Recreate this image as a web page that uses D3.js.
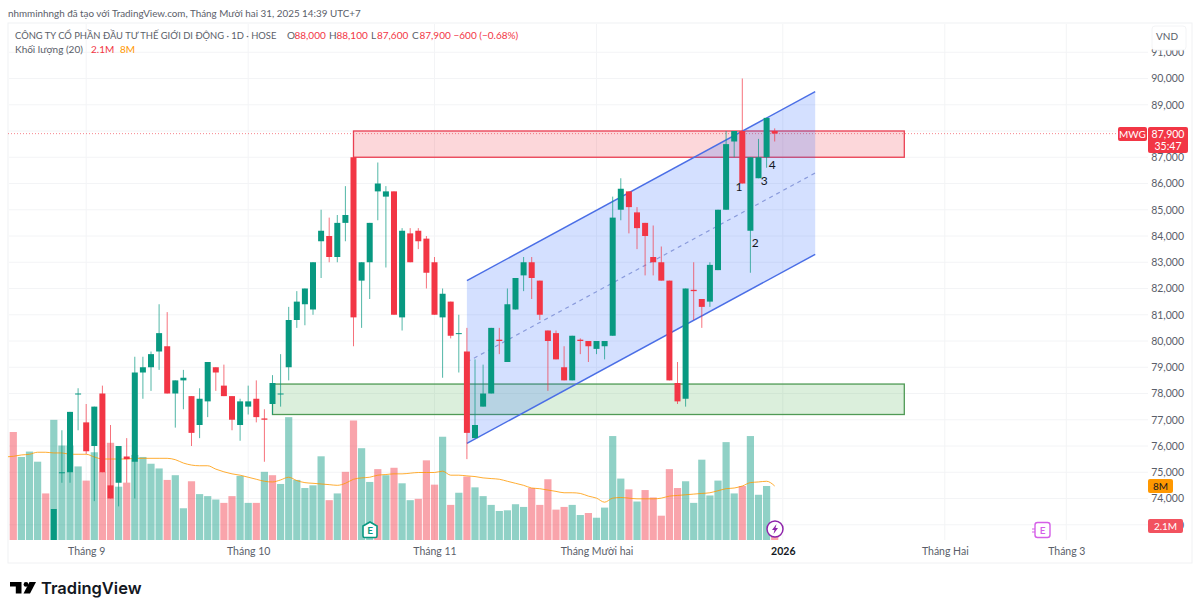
<!DOCTYPE html>
<html lang="vi">
<head>
<meta charset="UTF-8">
<title>MWG</title>
<script src="https://d3js.org/d3.v7.min.js"></script>
<style>
  html, body { margin: 0; background: #fff; overflow: hidden; }
  svg { display: block; font-family: Lato, "Noto Sans", sans-serif; }
  .axis text { font-size: 10.5px; fill: #5a5e69; font-family: Lato, "Noto Sans", sans-serif; }
  .axis path, .axis line { display: none; }
</style>
</head>
<body>
<svg width="1200" height="613"></svg>
<script>
// candles start at index 5, the earlier ones sit below the visible pane
const firstCandle = 5;
// prices in thousand VND
const opens = [71.8,75.0,75.0,78.0,76.9,76.0,78.0,74.5,74.6,75.6,75.4,78.8,79.0,79.6,79.8,78.0,78.5,77.9,76.8,77.7,79.0,78.3,77.9,76.8,77.5,77.8,77.05,77.6,78.0,79.0,80.8,81.4,81.2,83.8,84.0,83.2,84.5,87.0,82.3,83.0,85.7,85.5,85.7,80.9,84.1,84.2,83.9,83.0,80.9,81.5,80.3,79.6,76.3,77.5,78.0,80.05,79.2,81.2,82.5,83.0,82.3,80.4,80.3,79.0,78.5,80.05,80.0,79.7,79.8,80.2,85.0,85.7,84.9,84.5,83.2,83.0,82.3,78.4,77.8,81.95,81.6,81.5,82.7,85.0,87.6,88.0,84.2,86.2,87.0,88.0];
const highs = [73.6,76.6,77.3,78.2,77.6,77.5,78.3,76.8,76.0,76.3,79.4,79.4,79.6,81.4,81.1,78.5,78.9,77.9,78.2,79.2,79.0,79.1,77.9,77.8,78.3,78.5,77.4,78.7,79.5,81.3,81.9,82.0,83.0,85.0,84.7,84.8,85.9,87.0,83.0,84.5,86.8,85.9,85.7,84.3,84.3,84.3,84.0,83.2,82.0,81.5,81.0,80.5,79.3,79.1,80.5,80.5,82.0,82.4,83.2,83.2,82.3,80.4,80.4,79.8,80.2,80.1,80.0,80.0,80.0,85.5,86.2,85.7,85.1,84.5,84.4,83.6,82.3,79.2,82.0,83.0,81.6,83.0,85.0,88.0,88.0,90.0,87.0,87.7,88.5,88.1];
const lows = [71.8,74.6,74.6,76.6,75.7,73.9,75.0,74.0,73.7,74.6,74.0,77.8,78.1,78.9,78.0,76.7,77.4,76.0,76.3,77.1,78.1,77.9,76.6,76.2,77.2,76.9,75.4,77.2,77.5,78.5,80.5,80.6,81.0,82.4,83.0,83.0,83.8,79.8,80.5,81.6,84.6,82.8,81.0,80.4,83.0,83.5,82.0,81.0,78.6,80.1,78.8,75.5,76.3,77.5,78.0,79.5,79.2,81.2,81.9,81.6,80.8,78.1,79.3,78.5,78.5,79.5,79.2,79.5,79.3,80.2,84.6,84.1,83.5,82.5,82.5,82.3,78.5,77.6,77.5,80.8,80.5,81.3,82.7,85.0,87.0,86.0,82.6,86.2,86.6,87.6];
const closes = [73.6,75.0,77.3,78.0,75.8,77.5,75.0,74.0,76.0,75.5,78.8,79.0,79.5,80.3,78.0,78.5,78.6,76.5,77.8,79.2,78.8,77.9,77.0,77.7,77.7,77.1,77.0,78.4,78.0,80.8,81.5,82.0,83.0,84.2,83.2,84.5,84.8,80.9,83.0,84.5,86.0,85.7,81.0,84.2,83.0,83.8,82.6,81.0,81.8,80.2,80.3,76.5,76.8,78.0,80.5,80.0,81.4,82.4,83.0,82.4,81.0,80.0,79.3,78.5,80.2,80.0,79.8,80.0,80.0,84.7,85.8,85.1,84.3,84.0,83.0,82.3,78.5,77.7,82.0,81.9,81.3,82.9,85.0,87.5,88.0,86.0,87.0,87.0,88.5,87.9];

// volume in millions, one per session from index 0
const volumes = [16.0,12.3,13.1,11.6,6.9,17.8,14.0,14.0,10.9,8.8,13.0,10.1,14.4,7.9,8.5,12.6,12.3,11.3,10.6,8.9,9.6,4.7,8.7,6.8,6.5,6.0,5.5,6.5,9.5,5.5,5.5,10.1,9.6,8.3,18.2,8.9,7.7,8.1,12.4,5.9,6.9,10.1,17.7,13.6,8.6,10.5,9.6,10.7,8.4,5.9,6.1,11.8,8.2,15.3,5.2,7.0,9.4,7.8,6.5,5.2,4.3,4.4,5.3,4.9,7.7,5.2,9.0,4.5,4.9,5.2,3.7,4.0,3.3,4.8,15.4,9.1,7.5,5.7,7.4,6.3,3.6,10.5,7.7,8.7,5.5,11.9,6.6,8.8,14.5,6.9,8.0,15.4,6.7,8.0,2.1];
const volumeDirs = "duuuduuuud" + "udduduuuud" + "uuduuudduu" + "duduuuuuud" + "udduududuu" + "dddududuuu" + "uuuudddddu" + "uduuuududd" + "ddduuuuuuu" + "duuud";
// 20 session volume average, starts one session before the first bar
const firstMA = -1;
const volumeMA = [12.3,12.4,12.6,12.7,13.0,13.0,12.9,12.9,12.7,12.7,12.7,12.3,12.0,12.0,12.0,12.0,12.1,12.1,12.1,12.1,12.1,11.9,11.4,11.1,11.0,11.0,10.5,10.1,9.8,9.6,9.3,9.0,8.7,8.6,8.9,9.3,8.8,8.5,8.4,8.3,8.2,8.1,8.4,9.0,9.2,9.3,9.6,9.7,9.8,9.8,9.9,10.0,10.0,10.0,10.2,9.6,9.6,9.5,9.4,9.2,9.1,9.0,8.7,8.4,8.1,7.7,7.6,7.4,7.2,7.0,7.0,6.9,6.5,6.2,5.6,6.2,6.3,6.2,6.1,6.1,6.1,6.2,6.5,6.6,6.7,6.8,6.9,7.0,7.3,7.6,7.7,8.0,8.5,8.6,8.7,8.0];

const priceTicks = [73,74,75,76,77,78,79,80,81,82,83,84,85,86,87,88,89,90,91];
const timeTicks = [9,29,52,72,95,115,130];
const timeLabels = ["Tháng 9","Tháng 10","Tháng 11","Tháng Mười hai","2026","Tháng Hai","Tháng 3"];

// drawings
const channelIdx = [56,99];
const channelUpper = [82.3,89.5];
const channelMid = [79.2,86.4];
const channelLower = [76.1,83.3];
const resistanceZone = { from: 42, to: 110, top: 88.0, bottom: 87.0 };
const supportZone = { from: 32, to: 110, top: 78.36, bottom: 77.2 };
const waveLabels = ["1","2","3","4"];
const waveIdx = [89.6,91.6,92.7,93.7];
const wavePrices = [85.9,83.75,86.1,86.73];

const lastPrice = 87.9;
const red = "#F23645", green = "#089981", blue = "#4a6ee6";
const textGrey = "#5a5e69";

const svg = d3.select("svg");
const x = d3.scaleLinear().domain([0,130]).range([13.3,1066.3]);
const y = d3.scaleLinear().domain([74,90]).range([498.5,78.5]);
const yVol = d3.scaleLinear().domain([0,8]).range([540,486]);
const fmtPrice = d => d3.format(",")(Math.round(d*1000));

// frame
svg.append("rect").attr("x",8).attr("y",23).attr("width",1184).attr("height",540)
  .attr("fill","none").attr("stroke","#f0f1f3");

// grid
const grid = svg.append("g").attr("stroke","#f3f4f6").attr("stroke-width",1);
grid.selectAll(".h").data(priceTicks).join("line")
  .attr("x1",9).attr("x2",1148).attr("y1",d=>y(d)).attr("y2",d=>y(d));
grid.selectAll(".v").data(timeTicks).join("line")
  .attr("x1",d=>x(d)).attr("x2",d=>x(d)).attr("y1",24).attr("y2",540);

svg.append("defs").append("clipPath").attr("id","pane")
  .append("rect").attr("x",8).attr("y",24).attr("width",1140).attr("height",516);
const pane = svg.append("g").attr("clip-path","url(#pane)");

// volume bars
const barW = 7.2;
pane.append("g").selectAll("rect").data(volumes).join("rect")
  .attr("x",(d,i)=>x(i)-barW/2).attr("width",barW)
  .attr("y",d=>yVol(d)).attr("height",d=>yVol(0)-yVol(d))
  .attr("fill",(d,i)=>volumeDirs[i]=="d" ? red : green)
  .attr("fill-opacity",0.45);

// volume MA
pane.append("path").datum(volumeMA)
  .attr("d",d3.line().x((d,i)=>x(i+firstMA)).y(d=>yVol(d)).curve(d3.curveMonotoneX))
  .attr("fill","none").attr("stroke","#FF9800").attr("stroke-width",1).attr("opacity",0.8);

// last price line
pane.append("line").attr("x1",8).attr("x2",1118).attr("y1",y(lastPrice)).attr("y2",y(lastPrice))
  .attr("stroke",red).attr("stroke-dasharray","1 2").attr("stroke-width",1).attr("opacity",0.6);

// zones
function zone(z, fill, stroke) {
  pane.append("rect").attr("x",x(z.from)).attr("y",y(z.top))
    .attr("width",x(z.to)-x(z.from)).attr("height",y(z.bottom)-y(z.top))
    .attr("fill",fill).attr("stroke",stroke).attr("stroke-width",1.3);
}
zone(resistanceZone,"rgba(242,54,69,0.2)","#ea3f52");
zone(supportZone,"rgba(76,175,80,0.2)","#4f9a55");

// regression channel
const channelArea = d3.area().x((d,i)=>x(channelIdx[i])).y0((d,i)=>y(channelLower[i])).y1(d=>y(d));
pane.append("path").datum(channelUpper).attr("d",channelArea).attr("fill","rgba(41,98,255,0.2)");
const chanLine = d3.line().x((d,i)=>x(channelIdx[i])).y(d=>y(d));
pane.append("path").datum(channelUpper).attr("d",chanLine).attr("stroke",blue).attr("stroke-width",1.5).attr("fill","none");
pane.append("path").datum(channelLower).attr("d",chanLine).attr("stroke",blue).attr("stroke-width",1.5).attr("fill","none");
pane.append("path").datum(channelMid).attr("d",chanLine).attr("stroke","#8a9bdc").attr("stroke-width",1.2)
  .attr("stroke-dasharray","4 4").attr("fill","none");

// candles
const candles = pane.append("g").selectAll("g").data(opens).join("g")
  .attr("transform",(d,i)=>`translate(${x(i+firstCandle)},0)`);
const col = (d,i) => closes[i] >= opens[i] ? green : red;
candles.append("line")
  .attr("y1",(d,i)=>y(highs[i])).attr("y2",(d,i)=>y(lows[i]))
  .attr("stroke",col).attr("stroke-width",1).attr("stroke-opacity",0.7);
candles.append("rect").attr("x",-3).attr("width",6)
  .attr("y",(d,i)=>y(Math.max(opens[i],closes[i])))
  .attr("height",(d,i)=>Math.max(1,Math.abs(y(opens[i])-y(closes[i]))))
  .attr("fill",col);

// wave numbers
pane.append("g").selectAll("text").data(waveLabels).join("text")
  .attr("x",(d,i)=>x(waveIdx[i])).attr("y",(d,i)=>y(wavePrices[i])+4.5)
  .attr("text-anchor","middle").attr("font-size",12).attr("fill","#131722").text(d=>d);

// axes
const yAxis = svg.append("g").attr("class","axis").attr("transform","translate(1184,0)")
  .call(d3.axisLeft(y).tickValues(priceTicks).tickFormat(fmtPrice).tickSize(0).tickPadding(0));
const xAxis = svg.append("g").attr("class","axis").attr("transform","translate(0,540)")
  .call(d3.axisBottom(x).tickValues(timeTicks).tickFormat((d,i)=>timeLabels[i]).tickSize(0).tickPadding(8));
xAxis.selectAll("text").filter(d=>d==95).attr("font-weight",700).style("fill","#131722");

// header text
const t = (str,px,py,opts={}) => svg.append("text").attr("x",px).attr("y",py)
  .attr("font-size",opts.size||10).attr("fill",opts.fill||textGrey)
  .attr("text-anchor",opts.anchor||"start").attr("font-weight",opts.weight||400).text(str);
t("nhmminhngh đã tạo với TradingView.com, Tháng Mười hai 31, 2025 14:39 UTC+7",8,17,{size:9.85});
t("CÔNG TY CỔ PHẦN ĐẦU TƯ THẾ GIỚI DI ĐỘNG · 1D · HOSE",15,39,{size:9.4});
[["O",287,"88,000"],["H",329,"88,100"],["L",371,"87,600"],["C",412,"87,900"]].forEach(r=>{
  t(r[0],r[1],39);
  t(r[2],r[1]+(r[0]=="L"?6:7.5),39,{fill:red});
});
t("−600 (−0.68%)",453.5,39,{fill:red});
t("Khối lượng (20)",15,53);
t("2.1M",91,53,{fill:red});
t("8M",120,53,{fill:"#FF9800"});

// VND box
svg.append("rect").attr("x",1152).attr("y",26).attr("width",34).attr("height",24).attr("rx",3)
  .attr("fill","#fff").attr("stroke","#f3f4f6");
t("VND",1167,39.5,{anchor:"middle"});

// price tags
function tag(px,py,w,h,fill) {
  svg.append("rect").attr("x",px).attr("y",py).attr("width",w).attr("height",h).attr("rx",2).attr("fill",fill);
}
tag(1118,127,29,14,red);
t("MWG",1132.5,138,{anchor:"middle",fill:"#fff"});
tag(1148,127,40,26,red);
t("87,900",1168,138,{anchor:"middle",fill:"#fff",size:10.5});
t("35:47",1168,150,{anchor:"middle",fill:"#fff",size:10.5});
tag(1148,479,25,14,"#FF9800");
t("8M",1160.5,490,{anchor:"middle",fill:"#131722"});
tag(1148,519,35,14,"#F2525F");
t("2.1M",1165.5,530,{anchor:"middle",fill:"#fff"});

// event markers
const earn = svg.append("g").attr("transform","translate(370,530)");
earn.append("path").attr("d","M-7,-4 L0,-8 L7,-4 L7,6 Q7,7.5 5.5,7.5 L-5.5,7.5 Q-7,7.5 -7,6 Z")
  .attr("fill","#fff").attr("stroke",green).attr("stroke-width",1.6);
earn.append("text").attr("text-anchor","middle").attr("y",4).attr("font-size",10).attr("font-weight",700).attr("fill",green).text("E");

const bolt = svg.append("g").attr("transform","translate(775,529)");
bolt.append("circle").attr("r",8).attr("fill","#fff").attr("stroke","#8e24aa").attr("stroke-width",1.5);
bolt.append("path").attr("d","M1.5,-5 L-3,1 L-0.5,1 L-1.5,5 L3,-1 L0.5,-1 Z").attr("fill","#8e24aa");

const future = svg.append("g").attr("transform","translate(1042,530)");
future.append("rect").attr("x",-7).attr("y",-7.5).attr("width",15).attr("height",15).attr("rx",2.5)
  .attr("fill","#fff").attr("stroke","#d55fe8").attr("stroke-width",1.4);
future.append("path").attr("d","M-10,-1 H-7 M-10,2 H-7").attr("stroke","#d55fe8").attr("stroke-width",1.2);
future.append("text").attr("text-anchor","middle").attr("x",0.5).attr("y",3.5).attr("font-size",10).attr("font-weight",600).attr("fill","#d55fe8").text("E");

// logo
const logo = svg.append("g").attr("fill","#000");
logo.append("path").attr("d","M10,582 H21.5 V593.5 H15.8 V586.6 H10 Z");
logo.append("circle").attr("cx",26).attr("cy",584.4).attr("r",2.4);
logo.append("path").attr("d","M29.5,582 H36 L30,593.5 H23.5 Z");
svg.append("text").attr("x",41).attr("y",594).attr("font-family","Inter").attr("font-size",16.5)
  .attr("font-weight",600).attr("fill","#131722").text("TradingView");
</script>
</body>
</html>
